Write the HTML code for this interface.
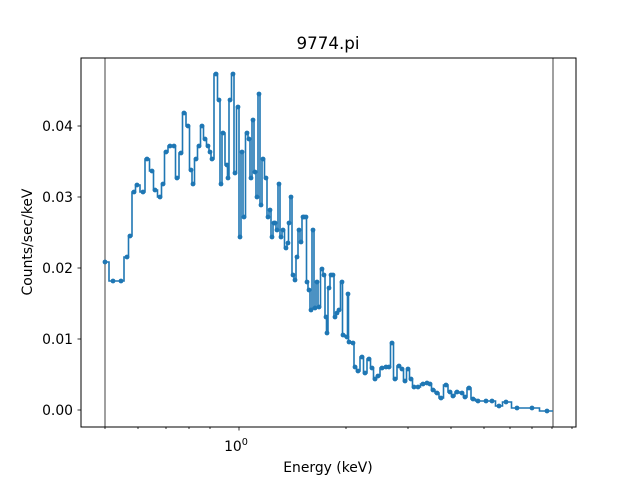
<!DOCTYPE html>
<html><head><meta charset="utf-8"><style>
body{margin:0;background:#fff}
svg text{font-family:"DejaVu Sans","Liberation Sans",sans-serif;fill:#000}
</style></head><body>
<svg id="s" width="640" height="480" xmlns="http://www.w3.org/2000/svg">
<rect width="640" height="480" fill="#fff"/>
<text x="328" y="49" font-size="16.7" text-anchor="middle">9774.pi</text>
<line x1="105" y1="58" x2="105" y2="427" stroke="#808080" stroke-width="1.5"/>
<line x1="553" y1="58" x2="553" y2="427" stroke="#808080" stroke-width="1.5"/>
<g id="data"></g>
<rect x="81" y="58" width="495" height="369" fill="none" stroke="#000" stroke-width="1"/>
<g stroke="#000" stroke-width="0.8">
<line x1="81" y1="410" x2="77.5" y2="410"/><line x1="81" y1="339" x2="77.5" y2="339"/><line x1="81" y1="268" x2="77.5" y2="268"/><line x1="81" y1="197" x2="77.5" y2="197"/><line x1="81" y1="126" x2="77.5" y2="126"/>
<line x1="239" y1="427" x2="239" y2="430.5"/>
<line x1="105" y1="427" x2="105" y2="429"/><line x1="138" y1="427" x2="138" y2="429"/><line x1="166" y1="427" x2="166" y2="429"/><line x1="189" y1="427" x2="189" y2="429"/><line x1="210" y1="427" x2="210" y2="429"/>
<line x1="346" y1="427" x2="346" y2="429"/><line x1="408" y1="427" x2="408" y2="429"/><line x1="451" y1="427" x2="451" y2="429"/><line x1="484" y1="427" x2="484" y2="429"/><line x1="510" y1="427" x2="510" y2="429"/><line x1="532" y1="427" x2="532" y2="429"/><line x1="552" y1="427" x2="552" y2="429"/><line x1="572" y1="427" x2="572" y2="429"/>
</g>
<g font-size="13.9" text-anchor="end">
<text x="73" y="415">0.00</text><text x="73" y="344">0.01</text><text x="73" y="273">0.02</text><text x="73" y="202">0.03</text><text x="73" y="131">0.04</text>
</g>
<text x="236" y="451" font-size="13.9" text-anchor="middle">10<tspan font-size="9.7" dy="-6">0</tspan></text>
<text x="328" y="472" font-size="13.9" text-anchor="middle">Energy (keV)</text>
<text transform="translate(32,242) rotate(-90)" font-size="13.9" text-anchor="middle">Counts/sec/keV</text>
</svg>
<script>
var p=[[105,262],[113,281],[121,281],[127,257],[130,236],[134,192],[137,185],[143,192],[147,159],[152,171],[155,190],[160,197],[163,184],[166,152],[170,146],[174,146],[177,178],[181,153],[184,113],[188,126],[191,170],[193,184],[196,159],[199,146],[202,126],[205,139],[208,146],[210,152],[212,159],[216,74],[219,100],[221,184],[223,133],[227,165],[228,178],[230,100],[233,74],[235,173],[238,107],[240,237],[242,152],[244,217],[247,133],[249,139],[251,178],[253,120],[255,172],[257,197],[259,94],[261,205],[263,159],[266,178],[268,217],[270,210],[272,237],[274,223],[275,223],[277,230],[279,184],[281,237],[283,230],[286,248],[288,243],[289,223],[291,197],[293,275],[295,280],[297,257],[299,230],[301,242],[303,217],[304,217],[306,217],[307,282],[309,290],[311,310],[313,230],[315,308],[317,282],[319,307],[322,269],[324,275],[326,317],[327,333],[329,288],[331,275],[333,275],[335,317],[337,313],[339,310],[342,282],[343,335],[347,337],[348,294],[349,342],[353,343],[355,367],[358,371],[362,357],[365,373],[369,359],[372,368],[375,379],[378,376],[382,368],[386,367],[389,367],[392,343],[395,379],[399,366],[402,369],[405,381],[408,369],[411,379],[414,387],[418,387],[423,384],[427,383],[430,384],[433,390],[437,393],[441,398],[446,385],[450,392],[453,396],[457,392],[462,393],[465,397],[469,388],[473,399],[478,401],[486,401],[492,401],[499,406],[506,402],[517,408],[532,408],[547,411]];
var d="M"+p[0][0]+","+p[0][1];
for(var i=1;i<p.length;i++){var m=(p[i-1][0]+p[i][0])/2;d+=" H"+m+" V"+p[i][1]+" H"+p[i][0];}
d+=" H553";
var g=document.getElementById("data"),ns="http://www.w3.org/2000/svg";
var pa=document.createElementNS(ns,"path");pa.setAttribute("d",d);pa.setAttribute("fill","none");pa.setAttribute("stroke","#1f77b4");pa.setAttribute("stroke-width","1.6");g.appendChild(pa);
p.forEach(function(q){var c=document.createElementNS(ns,"circle");c.setAttribute("cx",q[0]);c.setAttribute("cy",q[1]);c.setAttribute("r","2.4");c.setAttribute("fill","#1f77b4");g.appendChild(c);});
</script>
</body></html>
